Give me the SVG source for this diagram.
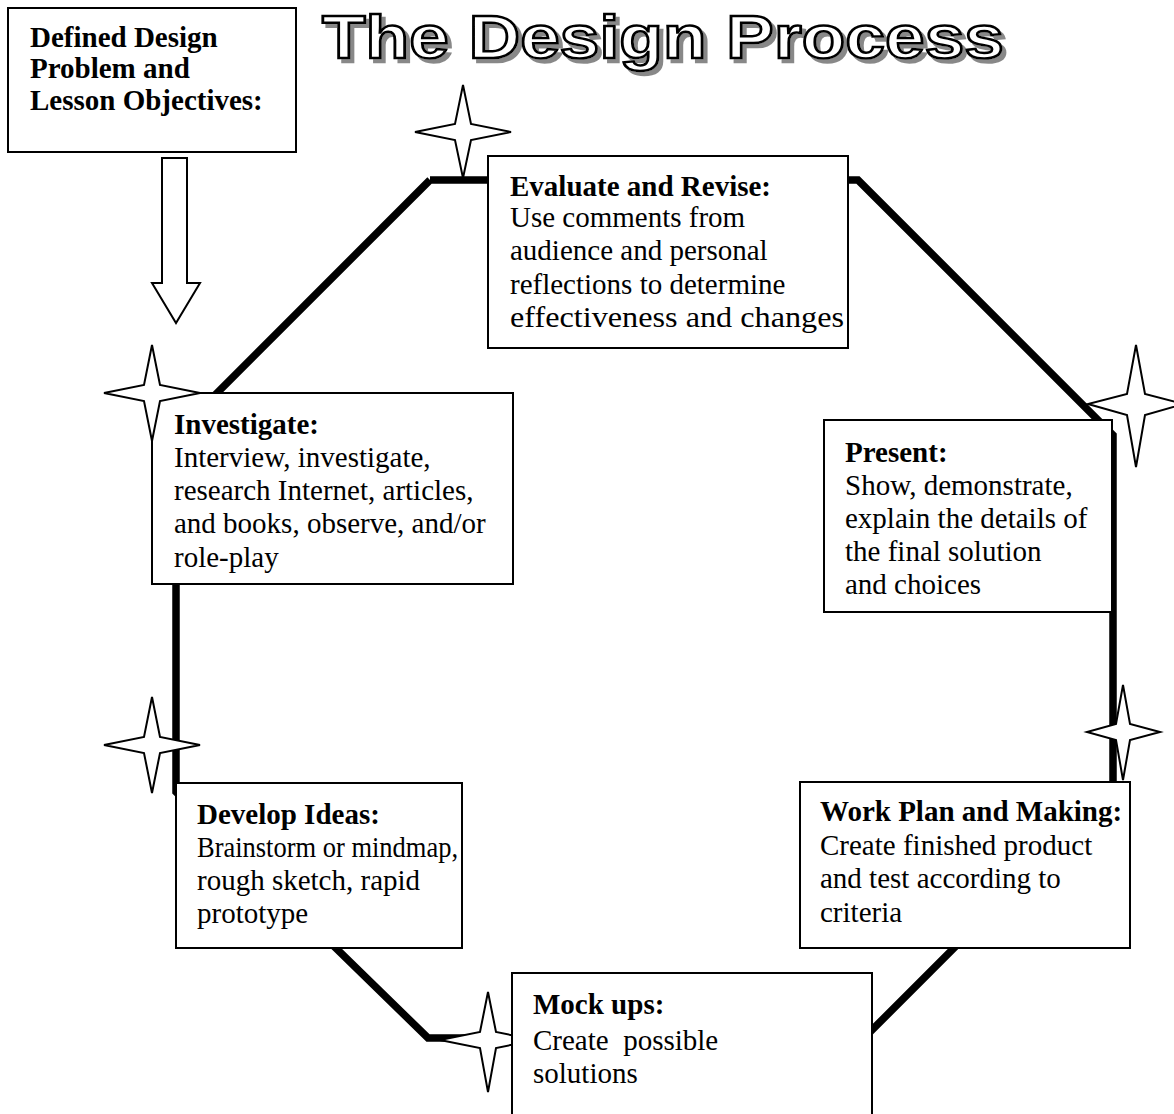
<svg xmlns="http://www.w3.org/2000/svg" width="1174" height="1114" viewBox="0 0 1174 1114">
<defs>
<filter id="shadow" x="-5%" y="-20%" width="110%" height="150%">
<feFlood flood-color="#888888"/>
<feComposite in2="SourceAlpha" operator="in"/>
<feOffset dx="4" dy="4" result="sh"/>
<feMerge><feMergeNode in="sh"/><feMergeNode in="SourceGraphic"/></feMerge>
</filter>
</defs>
<style>
.box{fill:#fff;stroke:#000;stroke-width:2}
.star{fill:#fff;stroke:#000;stroke-width:2;stroke-linejoin:miter}
.t{font-family:"Liberation Serif","Times New Roman",serif;font-size:29px;fill:#000;white-space:pre}
.b{font-weight:bold}
.title{font-family:"Liberation Sans",Arial,sans-serif;font-weight:bold;font-size:62px;fill:#fff;stroke:#000;stroke-width:2.5;filter:url(#shadow)}
</style>
<rect width="1174" height="1114" fill="#fff"/>
<g id="connectors">
<polyline points="430,180 858,180 1113,435 1113,789 864,1038 428,1038 176,792 176,434 430,180" fill="none" stroke="#000" stroke-width="7.5" stroke-linejoin="miter"/>
<polygon points="162,158 187,158 187,283 200,283 176,323 152,283 162,283" fill="#fff" stroke="#000" stroke-width="2"/>
</g>
<g id="title">
<text class="title" x="322" y="58" textLength="682" lengthAdjust="spacingAndGlyphs">The Design Process</text>
</g>
<g id="star-mock"><path class="star" d="M488,992 L496,1032 L536,1040 L496,1048 L488,1092 L480,1048 L440,1040 L480,1032 Z"/></g>
<g id="node-defined">
<rect class="box" x="8" y="8" width="288" height="144"/>
<text class="t b" x="30" y="47" font-size="28">Defined Design</text>
<text class="t b" x="30" y="78" font-size="28">Problem and</text>
<text class="t b" x="30" y="110" font-size="28">Lesson Objectives:</text>
</g>
<g id="node-evaluate">
<rect class="box" x="488" y="156" width="360" height="192"/>
<text class="t b" x="510" y="196">Evaluate and Revise:</text>
<text class="t" x="510" y="227">Use comments from</text>
<text class="t" x="510" y="260">audience and personal</text>
<text class="t" x="510" y="294">reflections to determine</text>
<text class="t" x="510" y="327" textLength="334" lengthAdjust="spacingAndGlyphs">effectiveness and changes</text>
</g>
<g id="node-investigate">
<rect class="box" x="152" y="393" width="361" height="191"/>
<text class="t b" x="174" y="434">Investigate:</text>
<text class="t" x="174" y="467">Interview, investigate,</text>
<text class="t" x="174" y="500">research Internet, articles,</text>
<text class="t" x="174" y="533">and books, observe, and/or</text>
<text class="t" x="174" y="567">role-play</text>
</g>
<g id="node-present">
<rect class="box" x="824" y="420" width="288" height="192"/>
<text class="t b" x="845" y="462">Present:</text>
<text class="t" x="845" y="495">Show, demonstrate,</text>
<text class="t" x="845" y="528">explain the details of</text>
<text class="t" x="845" y="561">the final solution</text>
<text class="t" x="845" y="594">and choices</text>
</g>
<g id="node-develop">
<rect class="box" x="176" y="783" width="286" height="165"/>
<text class="t b" x="197" y="824">Develop Ideas:</text>
<text class="t" x="197" y="857" textLength="261" lengthAdjust="spacingAndGlyphs">Brainstorm or mindmap,</text>
<text class="t" x="197" y="890">rough sketch, rapid</text>
<text class="t" x="197" y="923">prototype</text>
</g>
<g id="node-workplan">
<rect class="box" x="800" y="782" width="330" height="166"/>
<text class="t b" x="820" y="821">Work Plan and Making:</text>
<text class="t" x="820" y="855">Create finished product</text>
<text class="t" x="820" y="888">and test according to</text>
<text class="t" x="820" y="922">criteria</text>
</g>
<g id="node-mockups">
<rect class="box" x="512" y="973" width="360" height="150"/>
<text class="t b" x="533" y="1014" font-size="31">Mock ups:</text>
<text class="t" x="533" y="1050" font-size="31">Create  possible</text>
<text class="t" x="533" y="1083" font-size="31">solutions</text>
</g>
<g id="star-evaluate"><path class="star" d="M463,85 L471,124 L511,132 L471,140 L463,178 L455,140 L415,132 L455,124 Z"/></g>
<g id="star-investigate"><path class="star" d="M152,345 L160,385 L200,393 L160,401 L152,441 L144,401 L104,393 L144,385 Z"/></g>
<g id="star-present"><path class="star" d="M1136,345 L1145,394 L1184,404 L1145,415 L1136,467 L1127,415 L1088,404 L1127,394 Z"/></g>
<g id="star-develop"><path class="star" d="M152,697 L160,737 L200,745 L160,753 L152,793 L144,753 L104,745 L144,737 Z"/></g>
<g id="star-workplan"><path class="star" d="M1123,685 L1130,724 L1160,732 L1130,740 L1123,780 L1116,740 L1087,732 L1116,724 Z"/></g>
</svg>
